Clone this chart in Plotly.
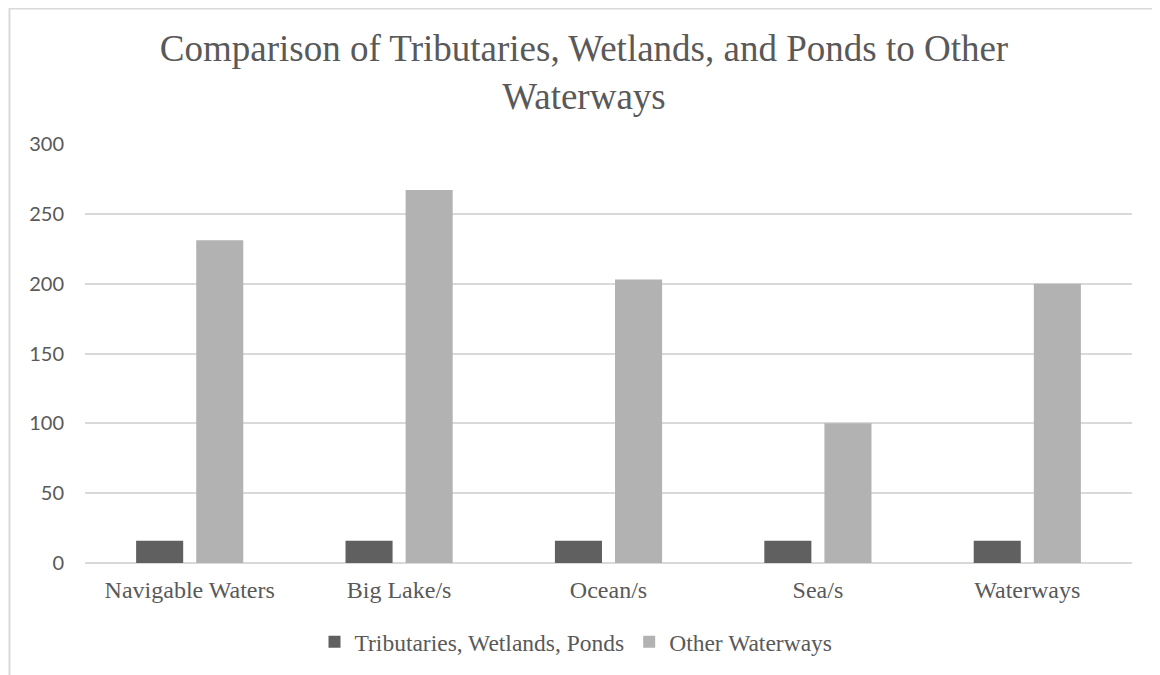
import plotly.graph_objects as go

categories = ["Navigable Waters", "Big Lake/s", "Ocean/s", "Sea/s", "Waterways"]
tributaries = [16, 16, 16, 16, 16]
other_waterways = [231, 267, 203, 100, 200]
series_names = ["Tributaries, Wetlands, Ponds", "Other Waterways"]
y_ticks = [0, 50, 100, 150, 200, 250, 300]
title_text = "Comparison of Tributaries, Wetlands, and Ponds to Other<br>Waterways"

W, H = 1160, 675
ML, MR, MT, MB = 77, 36, 136, 120
PW, PH = W - ML - MR, H - MT - MB

fig = go.Figure()
fig.add_trace(go.Bar(x=categories, y=tributaries, name=series_names[0],
                     marker=dict(color="#606060", line=dict(width=0))))
fig.add_trace(go.Bar(x=categories, y=other_waterways, name=series_names[1],
                     marker=dict(color="#b2b2b2", line=dict(width=0))))

def px_x(p):
    return (p - ML) / PW

def px_y(p):
    return 1 - (p - MT) / PH

fig.add_shape(type="rect", xref="paper", yref="paper",
              x0=px_x(1.5), x1=px_x(1180), y0=px_y(700), y1=px_y(0.5),
              line=dict(color="#d9d9d9", width=2), fillcolor="rgba(0,0,0,0)", layer="below")

fig.update_layout(
    width=W, height=H,
    margin=dict(l=ML, r=MR, t=MT, b=MB),
    paper_bgcolor="white", plot_bgcolor="white",
    barmode="group", bargap=0.426, bargroupgap=0.217,
    title=dict(text=title_text, xref="container", x=576 / W, xanchor="center",
               yref="container", y=1 - 53 / H, yanchor="middle",
               font=dict(family="Liberation Serif", size=37, color="#595959")),
    legend=dict(orientation="h", x=px_x(568), xanchor="center", y=px_y(634), yanchor="middle",
                font=dict(family="Liberation Serif", size=23.5, color="#595959"),
                itemwidth=30, traceorder="normal"),
    xaxis=dict(showgrid=False, showline=False, ticks="", ticklabelstandoff=10,
               tickfont=dict(family="Liberation Serif", size=24, color="#595959")),
    yaxis=dict(range=[0, 300], tickvals=y_ticks, showgrid=True, gridcolor="#d9d9d9", gridwidth=1.5,
               zeroline=True, zerolinecolor="#d9d9d9", zerolinewidth=1.5, showline=False, ticks="",
               ticklabelstandoff=20,
               tickfont=dict(family="Lato", size=20, color="#595959")),
)

fig.write_html("out.html")
